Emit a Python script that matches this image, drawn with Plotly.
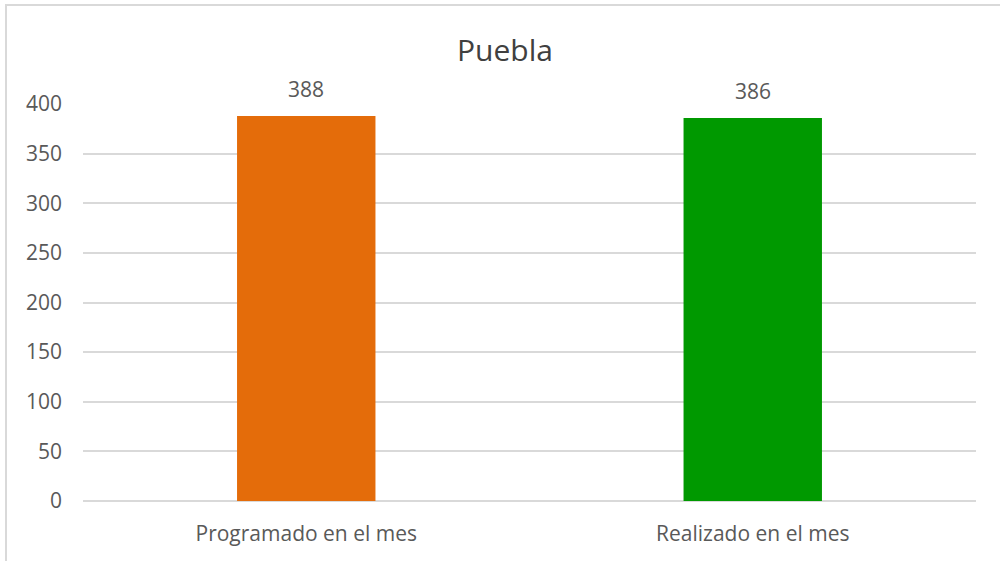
import plotly.graph_objects as go

categories = ["Programado en el mes", "Realizado en el mes"]
values = [388, 386]
bar_colors = ["#E46C0A", "#009900"]
y_ticks = [0, 50, 100, 150, 200, 250, 300, 350, 400]

text_color = "#595959"
grid_color = "#D9D9D9"

fig = go.Figure(go.Bar(
    x=categories,
    y=values,
    marker=dict(color=bar_colors, line=dict(width=0)),
    width=0.31,
    hoverinfo="x+y",
))

for cat, val in zip(categories, values):
    fig.add_annotation(
        x=cat, y=val, text=str(val),
        showarrow=False, yanchor="bottom", yshift=11,
        font=dict(size=21, color=text_color),
    )

# chart frame like the excel chart area (only top/left visible)
fig.add_shape(
    type="rect", xref="paper", yref="paper",
    x0=(6 - 83) / 893, y0=-1.2, x1=1.2, y1=(501 - 5) / 397,
    line=dict(color=grid_color, width=2), layer="below",
)

fig.update_layout(
    width=1000, height=561,
    margin=dict(l=83, r=24, t=104, b=60),
    plot_bgcolor="white", paper_bgcolor="white",
    font=dict(family="Open Sans", size=21, color=text_color),
    title=dict(text="Puebla", x=0.505, xref="container", y=1 - 50 / 561, yref="container",
               xanchor="center", yanchor="middle",
               font=dict(size=30, color="#404040")),
    showlegend=False,
)
fig.update_xaxes(
    showgrid=False, showline=False, ticks="",
    ticklabelstandoff=18, tickfont=dict(size=21, color=text_color),
)
fig.update_yaxes(
    range=[0, 400], tickvals=y_ticks,
    showgrid=True, gridcolor=grid_color, gridwidth=2,
    zeroline=True, zerolinecolor=grid_color, zerolinewidth=2,
    showline=False, ticks="", ticklabelstandoff=20,
    tickfont=dict(size=21, color=text_color),
)

# the page body has a default 8px margin; drop it so the figure fills the window
fig.write_html("out.html", config={"displayModeBar": False},
               post_script="document.body.style.margin='0';")
